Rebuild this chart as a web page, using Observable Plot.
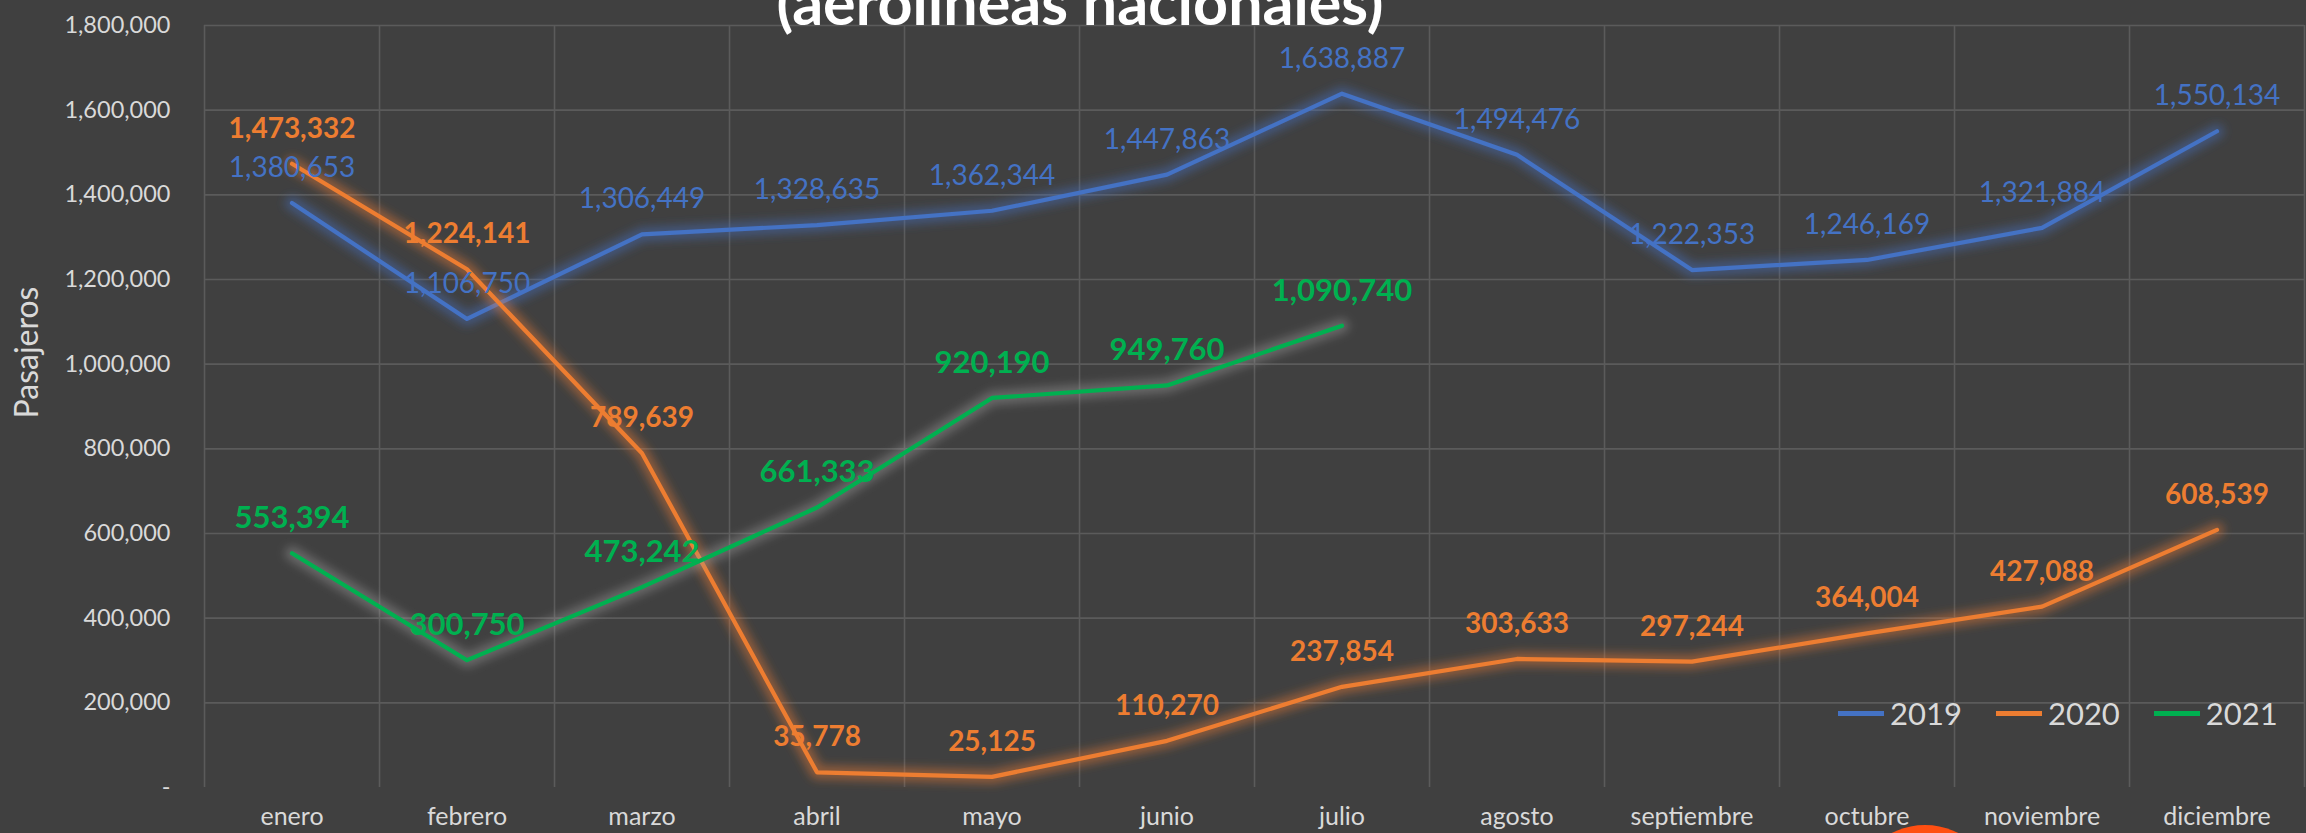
<!DOCTYPE html>
<html>
<head>
<meta charset="utf-8">
<script src="https://cdn.jsdelivr.net/npm/d3@7"></script>
<script src="https://cdn.jsdelivr.net/npm/@observablehq/plot@0.6"></script>
<style>
  html, body { margin: 0; padding: 0; background: #404040; overflow: hidden; }
  #wrap { position: relative; width: 2306px; height: 833px; overflow: hidden; background: #404040; font-family: Lato, sans-serif; }
  #title { position: absolute; left: 1080px; top: -29px; transform: translateX(-50%); font: bold 61px/61px Lato, sans-serif; color: #ffffff; white-space: nowrap; }
  #legend { position: absolute; left: 1838px; top: 693px; display: flex; align-items: center; font: 31px/40px Lato, sans-serif; color: #d9d9d9; }
  #legend .item { display: flex; align-items: center; margin-right: 34px; }
  #legend .sw { width: 46px; height: 5px; margin-right: 6px; }
  #logo { position: absolute; left: 1851px; top: 825px; width: 148px; height: 148px; border-radius: 50%; background: #ff4f12; }
  svg { position: absolute; left: 0; top: 0; }
</style>
</head>
<body>
<div id="wrap">
  <div id="chart"></div>
  <div id="title">(aerolíneas nacionales)</div>
  <div id="legend"></div>
  <div id="logo"></div>
</div>
<script>
const months = ["enero", "febrero", "marzo", "abril", "mayo", "junio", "julio", "agosto", "septiembre", "octubre", "noviembre", "diciembre"];
const years = ["2019", "2020", "2021"];
const y2019 = [1380653, 1106750, 1306449, 1328635, 1362344, 1447863, 1638887, 1494476, 1222353, 1246169, 1321884, 1550134];
const y2020 = [1473332, 1224141, 789639, 35778, 25125, 110270, 237854, 303633, 297244, 364004, 427088, 608539];
const y2021 = [553394, 300750, 473242, 661333, 920190, 949760, 1090740];
const yTicks = [0, 200000, 400000, 600000, 800000, 1000000, 1200000, 1400000, 1600000, 1800000];
const colors = ["#4472C4", "#ED7D31", "#00B050"];
const glowColors = ["#4472C4", "#ED7D31", "#9a9a9a"];

const fmt = d3.format(",");
const rows = (vals, year) => vals.map((v, i) => ({i, month: months[i], year, v}));
const series = [rows(y2019, years[0]), rows(y2020, years[1]), rows(y2021, years[2])];
const gridX = d3.range(months.length + 1);
const gridY = yTicks.filter(d => d > 0);
const xOf = d => d.i + 0.5;

const labelStyles = [
  {fontSize: 28, fontWeight: "normal"},
  {fontSize: 28, fontWeight: "bold"},
  {fontSize: 31, fontWeight: "bold"}
];

const marks = [
  Plot.ruleY(gridY, {stroke: "#5b5b5b", strokeWidth: 1.6}),
  Plot.ruleX(gridX, {stroke: "#5b5b5b", strokeWidth: 1.6}),
];
series.forEach((s, k) => {
  marks.push(Plot.line(s, {x: xOf, y: "v", stroke: glowColors[k], strokeWidth: 14, strokeOpacity: 0.45}));
  marks.push(Plot.line(s, {x: xOf, y: "v", stroke: colors[k], strokeWidth: 4.2}));
});
series.forEach((s, k) => {
  marks.push(Plot.text(s, {x: xOf, y: "v", text: d => fmt(d.v), fill: colors[k], dy: -35, lineAnchor: "middle", fontSize: labelStyles[k].fontSize, fontWeight: labelStyles[k].fontWeight}));
});
marks.push(Plot.axisY({ticks: yTicks, tickFormat: d => d === 0 ? "-" : fmt(d), tickSize: 0, tickPadding: 34, fontSize: 23.5, label: null}));
marks.push(Plot.axisX({ticks: months.map((m, i) => i + 0.5), tickFormat: d => months[Math.floor(d)], tickSize: 0, tickPadding: 20, fontSize: 25, label: null}));
marks.push(Plot.text(["Pasajeros"], {frameAnchor: "left", textAnchor: "middle", lineAnchor: "middle", dx: -177, dy: -54, rotate: -90, fontSize: 32, fill: "#d9d9d9"}));

const chart = Plot.plot({
  width: 2306,
  height: 833,
  marginTop: 25,
  marginBottom: 46,
  marginLeft: 204,
  marginRight: 2,
  x: {domain: [0, 12]},
  y: {domain: [0, 1800000]},
  style: {background: "#404040", color: "#d9d9d9", fontFamily: "Lato, sans-serif", overflow: "visible"},
  marks
});

const svg = d3.select(chart);
const filt = svg.insert("defs", ":first-child").append("filter")
  .attr("id", "glow").attr("x", "-10%").attr("y", "-10%").attr("width", "120%").attr("height", "120%");
filt.append("feGaussianBlur").attr("stdDeviation", 5);
svg.selectAll('g[stroke-width="14"]').attr("filter", "url(#glow)");

document.getElementById("chart").appendChild(chart);

const legend = d3.select("#legend");
years.forEach((y, k) => {
  const it = legend.append("div").attr("class", "item");
  it.append("div").attr("class", "sw").style("background", colors[k]);
  it.append("span").text(y);
});
</script>
</body>
</html>
